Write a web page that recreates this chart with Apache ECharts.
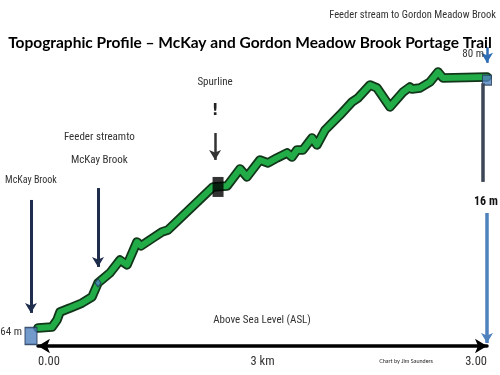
<!DOCTYPE html>
<html>
<head>
<meta charset="utf-8">
<script src="https://cdn.jsdelivr.net/npm/echarts@6/dist/echarts.min.js"></script>
<style>html,body{margin:0;padding:0;background:#fff}#c{width:500px;height:375px}</style>
</head>
<body>
<div id="c"></div>
<script>
// Profile data (distance along trail in km, elevation above sea level in m)
const distanceKm = [0, 0.094, 0.127, 0.147, 0.214, 0.294, 0.361, 0.401, 0.481, 0.548, 0.595, 0.661, 0.688, 0.768, 0.828, 0.869, 1.169, 1.263, 1.350, 1.396, 1.483, 1.537, 1.597, 1.664, 1.697, 1.730, 1.770, 1.831, 1.864, 1.918, 2.018, 2.098, 2.138, 2.218, 2.265, 2.352, 2.439, 2.485, 2.499, 2.552, 2.619, 2.673, 2.706, 3.0];
const elevationM = [64.00, 64.06, 64.51, 65.02, 65.27, 65.59, 65.98, 66.87, 67.51, 68.33, 68.02, 69.48, 69.23, 69.74, 70.12, 70.25, 72.99, 73.05, 74.14, 73.63, 74.71, 74.52, 74.84, 75.16, 74.90, 75.35, 75.35, 76.11, 75.67, 76.62, 77.58, 78.41, 78.66, 79.49, 79.30, 78.09, 79.04, 79.36, 79.23, 79.30, 79.68, 80.32, 79.94, 80.00];

// Features along the trail [km, m]
const mckayBrook = [0, 63.55];
const feederMckay = [0.401, 66.87];
const spurline = [1.203, 72.99];
const feederGordon = [3.0, 79.8];

// Axis tick labels
const xTickValues = [0, 3];
const xTickLabels = ['0.00', '3.00'];
const xAxisName = '3 km';

const titleText = 'Topographic Profile \u2013 McKay and Gordon Meadow Brook Portage Trail';

// Annotation texts and their anchors in data units [km, m]
const notes = {
  mckay: { text: 'McKay Brook', at: [-0.047, 73.37] },
  feeder1: { text: 'Feeder streamto', at: [0.41, 76.18] },
  feeder2: { text: 'McKay Brook', at: [0.41, 74.71] },
  spur: { text: 'Spurline', at: [1.183, 79.68] },
  bang: { text: '!', at: [1.183, 77.83] },
  gordon: { text: 'Feeder stream to Gordon Meadow Brook', at: [3.06, 83.95] },
  top: { text: '80 m', at: [2.98, 81.45] },
  drop: { text: '16 m', at: [2.993, 72.03] },
  bottom: { text: '64 m', at: [-0.107, 63.74] },
  asl: { text: 'Above Sea Level (ASL)', at: [1.497, 64.51] },
  credit: { text: 'Chart by Jim Saunders', at: [2.459, 61.85] }
};

// Arrow annotations [x1, y1, x2, y2] in data units
const arrowMckay = [-0.047, 72.16, -0.047, 64.96];
const arrowFeeder = [0.401, 72.92, 0.401, 67.89];
const arrowSpur = [1.183, 76.43, 1.183, 74.71];
const arrowTop = [3.0, 81.9, 3.0, 80.9];
const lineRise = [2.973, 79.6, 2.973, 73.31];
const arrowDrop = [3.0, 71.33, 3.0, 63.04];

const narrow = '"Roboto Condensed", "DejaVu Sans Condensed", sans-serif';

// Main plot range and the same scale extended over the whole canvas (for annotations)
const xMin = 0, xMax = 3, yMin = 62.85, yMax = 81;
const G = { left: 38, right: 13, top: 61.3, bottom: 29 };
const W = 500, H = 375;
const kx = (xMax - xMin) / (W - G.left - G.right);
const ky = (yMax - yMin) / (H - G.top - G.bottom);

const profile = distanceKm.map((d, i) => [d, elevationM[i]]);

function note(n, style) {
  return { coord: n.at, value: n.text, symbol: 'circle', symbolSize: 0,
    itemStyle: { color: 'rgba(0,0,0,0)' },
    label: Object.assign({ show: true, position: 'inside', formatter: n.text,
      fontFamily: narrow, fontSize: 11, color: '#333' }, style || {}) };
}
function seg(a, color, width, arrow) {
  return [
    { coord: [a[0], a[1]], symbol: 'none', lineStyle: { color: color, width: width, type: 'solid' } },
    { coord: [a[2], a[3]], symbol: arrow ? 'arrow' : 'none', symbolSize: [9, 10] }
  ];
}

const chart = echarts.init(document.getElementById('c'), null, { renderer: 'canvas' });
chart.setOption({
  animation: false,
  backgroundColor: '#fff',
  title: {
    text: titleText, left: 'center', top: 30,
    textStyle: { fontFamily: 'Lato, "Open Sans", sans-serif', fontWeight: 'bold', fontSize: 15.5, color: '#000' }
  },
  grid: [
    { left: G.left, right: G.right, top: G.top, bottom: G.bottom, outerBoundsMode: 'none', containLabel: false },
    { left: 0, right: 0, top: 0, bottom: 0, outerBoundsMode: 'none', containLabel: false }
  ],
  xAxis: [{
    type: 'value', min: xMin, max: xMax, gridIndex: 0,
    axisLine: { show: true, symbol: ['arrow', 'arrow'], symbolSize: [11, 12], lineStyle: { color: '#000', width: 3.5 } },
    axisTick: { show: false },
    splitLine: { show: false },
    axisLabel: {
      customValues: xTickValues, margin: 9,
      formatter: v => xTickLabels[xTickValues.indexOf(v)],
      fontFamily: narrow, fontSize: 12.5, color: '#333',
      alignMinLabel: 'left', alignMaxLabel: 'right'
    },
    name: xAxisName, nameLocation: 'middle', nameGap: 9, nameMoveOverlap: false,
    nameTextStyle: { fontFamily: narrow, fontSize: 12.5, color: '#333', verticalAlign: 'top' }
  }, {
    type: 'value', gridIndex: 1, show: false,
    min: xMin - G.left * kx, max: xMax + G.right * kx
  }],
  yAxis: [
    { type: 'value', min: yMin, max: yMax, show: false, gridIndex: 0, splitLine: { show: false } },
    { type: 'value', gridIndex: 1, show: false, min: yMin - G.bottom * ky, max: yMax + G.top * ky }
  ],
  series: [
    {
      type: 'line', data: profile, symbol: 'none', z: 2,
      lineStyle: { color: '#12361a', width: 9.5, join: 'round', cap: 'round' }
    },
    {
      type: 'line', data: profile, symbol: 'none', z: 3,
      lineStyle: { color: '#22ac47', width: 6, join: 'round', cap: 'round' }
    },
    {
      type: 'scatter', data: [mckayBrook], symbol: 'rect', symbolSize: [12, 17], symbolOffset: [-7, 1], z: 4, clip: false,
      itemStyle: { color: '#4f81bd', borderColor: '#1f3354', borderWidth: 1.2 }
    },
    {
      type: 'scatter', data: [feederGordon], symbol: 'rect', symbolSize: [9, 10], z: 4, clip: false,
      itemStyle: { color: '#4f81bd', borderColor: '#1f3354', borderWidth: 1 }
    },
    {
      type: 'scatter', data: [feederMckay], symbol: 'diamond', symbolSize: [6, 8], z: 4,
      itemStyle: { color: '#4f81bd', borderColor: '#1f3354', borderWidth: 1 }
    },
    {
      type: 'scatter', data: [spurline], symbol: 'rect', symbolSize: [11, 20], z: 4,
      itemStyle: { color: '#000' }
    },
    {
      type: 'scatter', data: [], xAxisIndex: 1, yAxisIndex: 1, clip: false, z: 5, silent: true,
      markLine: {
        silent: true, animation: false, label: { show: false }, symbol: ['none', 'arrow'],
        data: [
          seg(arrowMckay, '#1f2d4d', 3, true),
          seg(arrowFeeder, '#1f2d4d', 3, true),
          seg(arrowSpur, '#333', 2.5, true),
          seg(arrowTop, '#2e6db4', 2.5, true),
          seg(lineRise, '#3c4656', 3.5, false),
          seg(arrowDrop, '#4f81bd', 3.5, true)
        ]
      },
      markPoint: {
        silent: true, animation: false,
        data: [
          note(notes.mckay, { fontSize: 10 }),
          note(notes.feeder1),
          note(notes.feeder2),
          note(notes.spur),
          note(notes.bang, { fontSize: 15, fontWeight: 'bold', color: '#222', fontFamily: 'DejaVu Sans, sans-serif' }),
          note(notes.gordon, { fontSize: 10.5, align: 'right' }),
          note(notes.top, { align: 'right' }),
          note(notes.drop, { fontSize: 12, fontWeight: 'bold', color: '#111' }),
          note(notes.bottom, { align: 'right' }),
          note(notes.asl, { fontSize: 11 }),
          note(notes.credit, { fontSize: 5.5, fontFamily: 'Lato, sans-serif', color: '#222' })
        ]
      }
    }
  ]
});
</script>
</body>
</html>
